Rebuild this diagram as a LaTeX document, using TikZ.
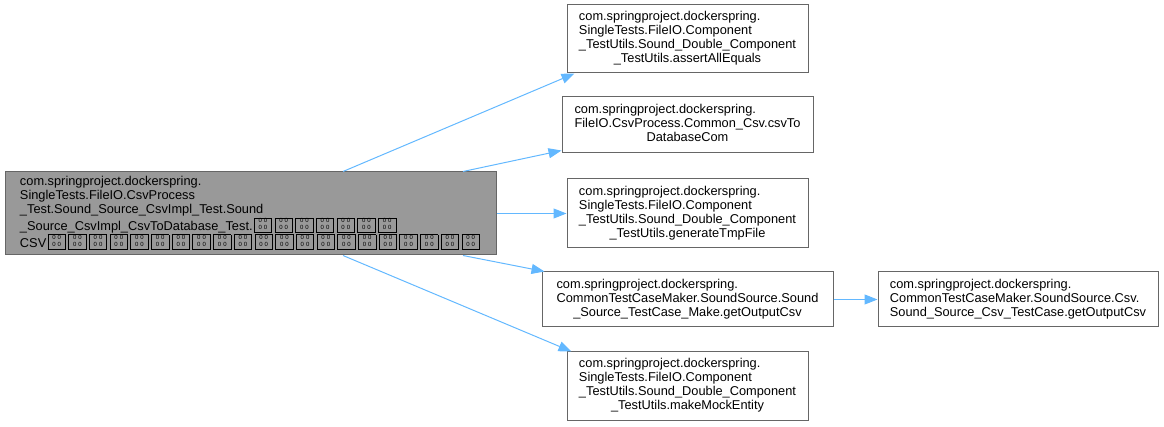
\documentclass[tikz,border=0pt]{standalone}
\usepackage{fontspec}
\setmainfont{Liberation Sans}
\usetikzlibrary{arrows.meta}
\definecolor{edgeblue}{HTML}{63B8FF}
\definecolor{boxgray}{HTML}{666666}
\definecolor{curfill}{HTML}{999999}
\tikzset{
  fn/.style={rectangle,draw=boxgray,fill=white,line width=1pt,inner sep=0pt,font=\fontsize{12.8}{14}\selectfont},
  cur/.style={fn,fill=curfill},
  arr/.style={draw=edgeblue,line width=1pt,-{Triangle[length=13pt,width=10pt,fill=edgeblue,color=edgeblue]}}
}
% a missing glyph, as the renderer shows it
\newcommand{\tofu}{\kern1.2pt{\setlength{\fboxsep}{0pt}\setlength{\fboxrule}{0.75pt}\fbox{\makebox[16.8pt]{\rule[-1.9pt]{0pt}{12.5pt}\raisebox{0.6pt}{\fontsize{6}{4.8}\selectfont\shortstack{0\,\,0\\0\,\,0}}}}}\kern1.2pt}
\newcommand{\lastln}[1]{\multicolumn{1}{@{}c@{}}{#1}}
\begin{document}
\begin{tikzpicture}[x=1pt,y=1pt]
  \useasboundingbox (0,0) rectangle (1164,-427);
  \node[cur,minimum width=491pt,minimum height=83pt] (main) at (250.5,-213.5) {\begin{tabular}{@{}l@{}}
    com.springproject.dockerspring.\\
    SingleTests.FileIO.CsvProcess\\
    \_Test.Sound\_Source\_CsvImpl\_Test.Sound\\
    \_Source\_CsvImpl\_CsvToDatabase\_Test.\foreach \i in {1,...,7}{\tofu}\\
    CSV\foreach \i in {1,...,21}{\tofu}
  \end{tabular}};
  \node[fn,minimum width=241pt,minimum height=68pt] (assertEq) at (687.5,-39) {\begin{tabular}{@{}l@{}}
    com.springproject.dockerspring.\\
    SingleTests.FileIO.Component\\
    \_TestUtils.Sound\_Double\_Component\\
    \lastln{\_TestUtils.assertAllEquals}
  \end{tabular}};
  \node[fn,minimum width=251pt,minimum height=56pt] (csvToDb) at (687.5,-125) {\begin{tabular}{@{}l@{}}
    com.springproject.dockerspring.\\
    FileIO.CsvProcess.Common\_Csv.csvTo\\
    \lastln{DatabaseCom}
  \end{tabular}};
  \node[fn,minimum width=241pt,minimum height=69pt] (genTmp) at (687.5,-213.5) {\begin{tabular}{@{}l@{}}
    com.springproject.dockerspring.\\
    SingleTests.FileIO.Component\\
    \_TestUtils.Sound\_Double\_Component\\
    \lastln{\_TestUtils.generateTmpFile}
  \end{tabular}};
  \node[fn,minimum width=291pt,minimum height=55pt] (makeOut) at (687.5,-299.5) {\begin{tabular}{@{}l@{}}
    com.springproject.dockerspring.\\
    CommonTestCaseMaker.SoundSource.Sound\\
    \lastln{\_Source\_TestCase\_Make.getOutputCsv}
  \end{tabular}};
  \node[fn,minimum width=280pt,minimum height=55pt] (csvOut) at (1018,-299.5) {\begin{tabular}{@{}l@{}}
    com.springproject.dockerspring.\\
    CommonTestCaseMaker.SoundSource.Csv.\\
    \lastln{Sound\_Source\_Csv\_TestCase.getOutputCsv}
  \end{tabular}};
  \node[fn,minimum width=241pt,minimum height=68pt] (mockEnt) at (687.5,-386) {\begin{tabular}{@{}l@{}}
    com.springproject.dockerspring.\\
    SingleTests.FileIO.Component\\
    \_TestUtils.Sound\_Double\_Component\\
    \lastln{\_TestUtils.makeMockEntity}
  \end{tabular}};
  % calls
  \draw[arr] ([xshift=92.5pt]main.north) -- ([xshift=8pt]assertEq.south west);
  \draw[arr] ([xshift=212.5pt]main.north) -- ([yshift=3pt]csvToDb.south west);
  \draw[arr] (main.east) -- (genTmp.west);
  \draw[arr] ([xshift=212.5pt]main.south) -- ([xshift=3pt]makeOut.north west);
  \draw[arr] ([xshift=92.5pt]main.south) -- ([xshift=5pt]mockEnt.north west);
  \draw[arr] (makeOut.east) -- (csvOut.west);
\end{tikzpicture}
\end{document}
